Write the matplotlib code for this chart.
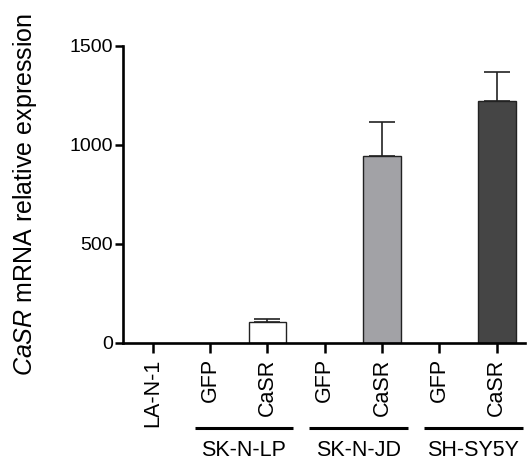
import matplotlib
matplotlib.use('Agg')
import matplotlib.pyplot as plt

plt.rcParams['font.family'] = ['Liberation Sans', 'DejaVu Sans']
plt.rcParams['mathtext.fontset'] = 'custom'
plt.rcParams['mathtext.rm'] = 'Liberation Sans'
plt.rcParams['mathtext.it'] = 'Liberation Sans:italic'

# data
categories = ['LA-N-1', 'GFP', 'CaSR', 'GFP', 'CaSR', 'GFP', 'CaSR']
values = [0, 0, 106, 0, 944, 0, 1219]
errors = [0, 0, 17, 0, 169, 0, 148]
bar_colors = ['white', 'white', 'white', 'white', '#a2a2a6', 'white', '#454545']
groups = ['SK-N-LP', 'SK-N-JD', 'SH-SY5Y']
group_span = [(1, 2), (3, 4), (5, 6)]

fig = plt.figure(figsize=(5.28, 4.62), dpi=100)
ax = fig.add_axes([0.233, 0.2576, 0.761, 0.6434])

x = list(range(len(categories)))
for i in x:
    if values[i] > 0:
        ax.bar(i, values[i], width=0.66, color=bar_colors[i], edgecolor='#222222',
               linewidth=1.0, zorder=2)
        ax.errorbar(i, values[i], yerr=[[0], [errors[i]]], fmt='none', ecolor='#222222',
                    elinewidth=1.2, capsize=9.5, capthick=1.2, zorder=1)

ax.set_xlim(-0.52, 6.49)
ax.set_ylim(0, 1500)
ax.set_yticks([0, 500, 1000, 1500])
ax.set_xticks(x)
ax.set_xticklabels(categories, rotation=90, fontsize=15.5)
ax.tick_params(axis='y', labelsize=14, length=6, width=1.8, pad=1)
ax.tick_params(axis='x', length=7, width=1.8, pad=4)
for s in ['top', 'right']:
    ax.spines[s].set_visible(False)
for s in ['left', 'bottom']:
    ax.spines[s].set_linewidth(1.9)

ax.set_ylabel(r'$\it{CaSR}$ mRNA relative expression', fontsize=18)
ax.yaxis.set_label_coords(-0.21, 0.5)

# group lines and labels under the tick labels
trans = ax.get_xaxis_transform()
for name, (a, b) in zip(groups, group_span):
    x0, x1 = a - 0.27, b + 0.45
    ax.plot([x0, x1], [-0.285, -0.285], color='black', lw=2.2, transform=trans,
            clip_on=False, solid_capstyle='butt')
    ax.text((x0 + x1) / 2, -0.325, name, transform=trans, ha='center', va='top',
            fontsize=15.5)

fig.savefig('out.png', dpi=100)
